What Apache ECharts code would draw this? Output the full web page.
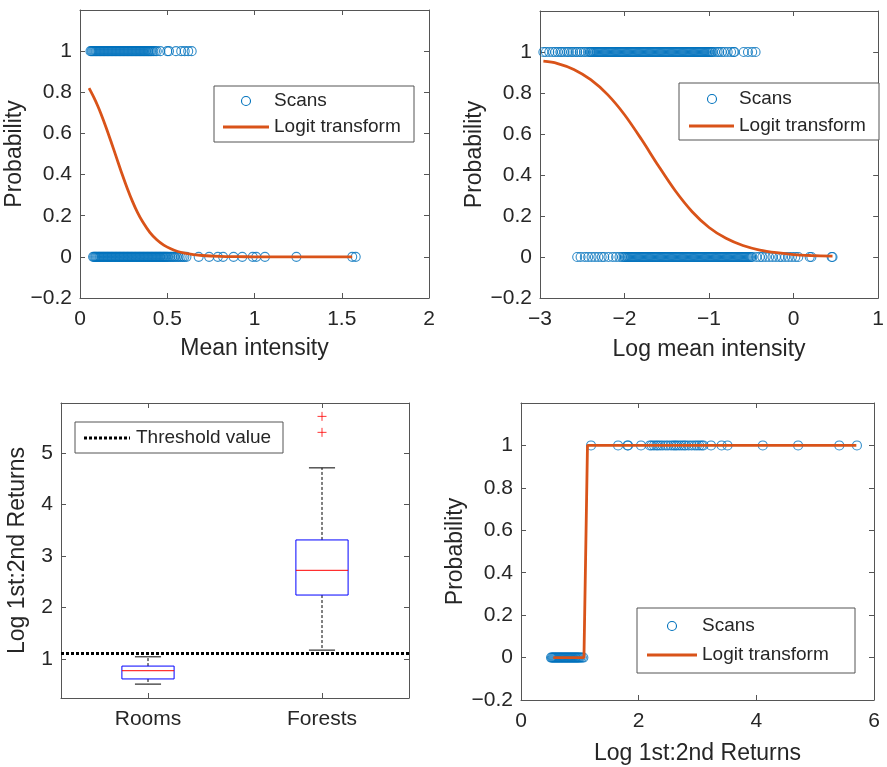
<!DOCTYPE html>
<html>
<head>
<meta charset="utf-8">
<script src="https://cdn.jsdelivr.net/npm/echarts@6/dist/echarts.min.js"></script>
<style>
html, body { margin: 0; padding: 0; background: #fff; }
#chart { width: 887px; height: 767px; }
</style>
</head>
<body>
<div id="chart"></div>
<script>
// ---------- panel 1: mean intensity ----------
var scans1Pos = [0.060,0.066,0.071,0.077,0.083,0.089,0.094,0.100,0.106,0.112,0.117,0.123,0.129,0.135,0.140,0.146,0.152,0.158,
  0.163,0.169,0.175,0.181,0.186,0.192,0.198,0.204,0.209,0.215,0.221,0.227,0.232,0.238,0.244,0.250,0.255,0.261,0.267,0.273,
  0.278,0.284,0.290,0.296,0.301,0.307,0.313,0.319,0.324,0.330,0.336,0.342,0.347,0.353,0.359,0.365,0.370,0.376,0.382,0.388,
  0.393,0.399,0.405,0.412,0.420,0.43,0.44,0.46,0.50,0.51,0.55,0.58,0.60,0.62,0.64];
var scans1Neg = [0.075,0.081,0.087,0.092,0.098,0.104,0.110,0.115,0.121,0.127,0.133,0.138,0.144,0.150,0.156,0.161,0.167,0.173,
  0.179,0.184,0.190,0.196,0.202,0.207,0.213,0.219,0.225,0.230,0.236,0.242,0.248,0.253,0.259,0.265,0.271,0.276,0.282,0.288,
  0.294,0.299,0.305,0.311,0.317,0.322,0.328,0.334,0.340,0.345,0.351,0.357,0.363,0.368,0.374,0.380,0.386,0.391,0.397,0.403,
  0.409,0.414,0.420,0.426,0.432,0.437,0.443,0.449,0.455,0.460,0.466,0.472,0.478,0.483,0.489,0.495,0.501,0.509,0.518,0.527,
  0.536,0.545,0.556,0.566,0.577,0.588,0.598,0.610,0.68,0.74,0.79,0.82,0.88,0.93,0.99,1.01,1.06,1.24,1.56,1.58];
var logit1X = [0.052,0.08,0.10,0.12,0.15,0.18,0.21,0.24,0.27,0.30,0.33,0.36,0.40,0.44,0.48,0.52,0.56,0.60,0.65,0.70,0.80,0.90,1.0,1.2,1.4,1.56];
var logit1Y = [0.820,0.774,0.737,0.696,0.628,0.555,0.480,0.405,0.335,0.271,0.215,0.169,0.119,0.083,0.057,0.039,0.026,0.018,0.011,0.0065,0.0024,0.0009,0.0003,0,0,0];

// ---------- panel 2: log mean intensity ----------
var scans2Pos = [-2.96,-2.93,-2.89,-2.85,-2.82,-2.79,-2.76,-2.74,-2.71,-2.68,-2.66,-2.63,-2.61,-2.58,-2.56,-2.53,-2.51,-2.48,
  -2.46,-2.43,-2.41,-2.400,-2.387,-2.374,-2.361,-2.348,-2.335,-2.322,-2.309,-2.296,-2.283,-2.270,-2.257,-2.244,-2.231,-2.218,
  -2.205,-2.192,-2.179,-2.166,-2.153,-2.140,-2.127,-2.114,-2.101,-2.088,-2.075,-2.062,-2.049,-2.036,-2.023,-2.010,-1.997,
  -1.984,-1.971,-1.958,-1.945,-1.932,-1.919,-1.906,-1.893,-1.880,-1.867,-1.854,-1.841,-1.828,-1.815,-1.802,-1.789,-1.776,
  -1.763,-1.750,-1.737,-1.724,-1.711,-1.698,-1.685,-1.672,-1.659,-1.646,-1.633,-1.620,-1.607,-1.594,-1.581,-1.568,-1.555,
  -1.542,-1.529,-1.516,-1.503,-1.490,-1.477,-1.464,-1.451,-1.438,-1.425,-1.412,-1.399,-1.386,-1.373,-1.360,-1.347,-1.334,
  -1.321,-1.308,-1.295,-1.282,-1.269,-1.256,-1.243,-1.230,-1.217,-1.204,-1.191,-1.178,-1.165,-1.152,-1.139,-1.126,-1.113,
  -1.100,-1.087,-1.074,-1.061,-1.048,-1.035,-1.022,-1.009,-0.996,-0.983,-0.970,-0.957,-0.93,-0.90,-0.88,-0.85,-0.82,-0.78,
  -0.74,-0.71,-0.70,-0.59,-0.54,-0.49,-0.45];
var scans2Neg = [-2.56,-2.52,-2.47,-2.43,-2.39,-2.35,-2.31,-2.27,-2.24,-2.19,-2.14,-2.10,-2.06,-2.03,-2.010,-1.997,-1.984,
  -1.971,-1.958,-1.945,-1.932,-1.919,-1.906,-1.893,-1.880,-1.867,-1.854,-1.841,-1.828,-1.815,-1.802,-1.789,-1.776,-1.763,
  -1.750,-1.737,-1.724,-1.711,-1.698,-1.685,-1.672,-1.659,-1.646,-1.633,-1.620,-1.607,-1.594,-1.581,-1.568,-1.555,-1.542,
  -1.529,-1.516,-1.503,-1.490,-1.477,-1.464,-1.451,-1.438,-1.425,-1.412,-1.399,-1.386,-1.373,-1.360,-1.347,-1.334,-1.321,
  -1.308,-1.295,-1.282,-1.269,-1.256,-1.243,-1.230,-1.217,-1.204,-1.191,-1.178,-1.165,-1.152,-1.139,-1.126,-1.113,-1.100,
  -1.087,-1.074,-1.061,-1.048,-1.035,-1.022,-1.009,-0.996,-0.983,-0.970,-0.957,-0.944,-0.931,-0.918,-0.905,-0.892,-0.879,
  -0.866,-0.853,-0.840,-0.827,-0.814,-0.801,-0.788,-0.775,-0.762,-0.749,-0.736,-0.723,-0.710,-0.697,-0.684,-0.671,-0.658,
  -0.645,-0.632,-0.619,-0.606,-0.593,-0.580,-0.567,-0.554,-0.541,-0.528,-0.515,-0.502,-0.489,-0.44,-0.40,-0.37,-0.33,-0.29,
  -0.25,-0.21,-0.17,-0.14,-0.10,-0.06,-0.02,0.02,0.055,0.19,0.21,0.45,0.46];
var logit2X = [-2.96,-2.8,-2.6,-2.4,-2.2,-2.0,-1.8,-1.6,-1.4,-1.2,-1.0,-0.8,-0.6,-0.4,-0.2,0,0.2,0.46];
var logit2Y = [0.955,0.945,0.915,0.865,0.792,0.694,0.574,0.445,0.323,0.221,0.144,0.091,0.056,0.034,0.021,0.012,0.0074,0.0038];

// ---------- panel 3: boxplot ----------
var boxCategories = ['Rooms', 'Forests'];
var boxLowerWhisker = [0.51, 1.17];
var boxQ1 = [0.61, 2.24];
var boxMedian = [0.77, 2.72];
var boxQ3 = [0.86, 3.31];
var boxUpperWhisker = [1.04, 4.71];
var outlierCategory = ['Forests', 'Forests'];
var outlierValues = [5.71, 5.40];
var thresholdValue = 1.10;
var boxTicks = [1, 2, 3, 4, 5];

// ---------- panel 4: log 1st:2nd returns ----------
var scans4Neg = [0.51,0.525,0.54,0.555,0.57,0.585,0.60,0.615,0.63,0.645,0.66,0.675,0.69,0.705,0.72,0.735,0.75,0.765,0.78,
  0.795,0.81,0.825,0.84,0.855,0.87,0.885,0.90,0.915,0.93,0.945,0.96,0.975,0.99,1.01,1.035,1.06];
var scans4Pos = [1.19,1.65,1.81,1.82,2.04,2.19,2.22,2.26,2.30,2.33,2.37,2.41,2.46,2.50,2.55,2.59,2.62,2.65,2.69,2.73,2.77,2.80,
  2.85,2.90,2.95,2.99,3.03,3.07,3.10,3.23,3.41,3.51,4.11,4.71,5.41,5.71];
var logit4X = [0.55, 1.07, 1.13, 5.70];
var logit4Y = [0, 0, 1, 1];

var FONT = '"Liberation Sans", Arial, sans-serif';
var AXIS_COLOR = '#555';
var TEXT_COLOR = '#262626';
var BLUE = '#0072BD';
var ORANGE = '#D95319';

function fmt(v) { return String(+(+v).toFixed(1)).replace('-', '\u2212'); }

function axis(gridIndex, position, cfg) {
  var main = position === 'bottom' || position === 'left';
  var isCat = cfg.type === 'category';
  var a = {
    gridIndex: gridIndex,
    position: position,
    type: cfg.type || 'value',
    axisLine: { show: true, onZero: false, lineStyle: { color: AXIS_COLOR, width: 1 } },
    axisTick: { show: true, inside: true, length: 5, alignWithLabel: true, lineStyle: { color: AXIS_COLOR } },
    axisLabel: { show: main, margin: cfg.margin, fontSize: 21, color: TEXT_COLOR, fontFamily: FONT,
      showMaxLabel: cfg.hideMax ? false : null },
    splitLine: { show: false }
  };
  if (isCat) { a.data = cfg.data; a.boundaryGap = true; }
  else { a.min = cfg.min; a.max = cfg.max; a.axisLabel.formatter = fmt; }
  if (cfg.interval != null) a.interval = cfg.interval;
  if (cfg.ticks) { a.axisTick.customValues = cfg.ticks; a.axisLabel.customValues = cfg.ticks; }
  if (main && cfg.name) {
    a.name = cfg.name;
    a.nameLocation = 'middle';
    a.nameGap = cfg.nameGap;
    a.nameTextStyle = { fontSize: 23, color: TEXT_COLOR, fontFamily: FONT };
  }
  return a;
}

function pairs(xs, y) { return xs.map(function (x) { return [x, y]; }); }
function zip(xs, ys) { return xs.map(function (x, i) { return [x, ys[i]]; }); }

function scansSeries(idx, pos, neg) {
  return {
    type: 'scatter', xAxisIndex: idx, yAxisIndex: idx,
    symbol: 'circle', symbolSize: 9,
    itemStyle: { color: 'rgba(0,0,0,0)', borderColor: BLUE, borderWidth: 1.1 },
    data: pairs(pos, 1).concat(pairs(neg, 0)), z: 2
  };
}
function logitSeries(idx, xs, ys, smooth) {
  return {
    type: 'line', xAxisIndex: idx, yAxisIndex: idx, showSymbol: false, symbol: 'none',
    smooth: smooth || false,
    lineStyle: { color: ORANGE, width: 2.8 }, data: zip(xs, ys), z: 3
  };
}

function legend(box, circle, line, textX) {
  var ts = { fill: TEXT_COLOR, fontSize: 19, fontFamily: FONT, verticalAlign: 'middle' };
  return [
    { type: 'rect', shape: box, style: { fill: '#fff', stroke: AXIS_COLOR, lineWidth: 1 }, z: 10 },
    { type: 'circle', shape: { cx: circle[0], cy: circle[1], r: 4.5 }, style: { fill: 'none', stroke: BLUE, lineWidth: 1.1 }, z: 11 },
    { type: 'line', shape: { x1: line[0], y1: line[2], x2: line[1], y2: line[2] }, style: { stroke: ORANGE, lineWidth: 2.8 }, z: 11 },
    { type: 'text', x: textX, y: circle[1], style: Object.assign({ text: 'Scans' }, ts), z: 11 },
    { type: 'text', x: textX, y: line[2], style: Object.assign({ text: 'Logit transform' }, ts), z: 11 }
  ];
}

var probAxis = { min: -0.2, max: 1.2, interval: 0.2, hideMax: true, margin: 8 };

var option = {
  animation: false,
  backgroundColor: '#fff',
  textStyle: { fontFamily: FONT },
  grid: [
    { left: 80, top: 10, width: 349, height: 288 },
    { left: 540, top: 11, width: 349, height: 287 },
    { left: 61, top: 403, width: 348, height: 295 },
    { left: 521, top: 403, width: 353, height: 297 }
  ],
  xAxis: [
    axis(0, 'bottom', { min: 0, max: 2, interval: 0.5, margin: 11, name: 'Mean intensity', nameGap: 39 }),
    axis(1, 'bottom', { min: -3, max: 1, interval: 1, margin: 11, name: 'Log mean intensity', nameGap: 40 }),
    axis(2, 'bottom', { type: 'category', data: boxCategories, margin: 11 }),
    axis(3, 'bottom', { min: 0, max: 6, interval: 2, margin: 11, name: 'Log 1st:2nd Returns', nameGap: 42 }),
    axis(0, 'top', { min: 0, max: 2, interval: 0.5 }),
    axis(1, 'top', { min: -3, max: 1, interval: 1 }),
    axis(2, 'top', { type: 'category', data: boxCategories }),
    axis(3, 'top', { min: 0, max: 6, interval: 2 })
  ],
  yAxis: [
    axis(0, 'left', Object.assign({ name: 'Probability', nameGap: 51 }, probAxis)),
    axis(1, 'left', Object.assign({ name: 'Probability', nameGap: 52 }, probAxis)),
    axis(2, 'left', { min: 0.24, max: 5.97, ticks: boxTicks, margin: 8, name: 'Log 1st:2nd Returns', nameGap: 32 }),
    axis(3, 'left', Object.assign({ name: 'Probability', nameGap: 54 }, probAxis)),
    axis(0, 'right', probAxis),
    axis(1, 'right', probAxis),
    axis(2, 'right', { min: 0.24, max: 5.97, ticks: boxTicks }),
    axis(3, 'right', probAxis)
  ],
  series: [
    scansSeries(0, scans1Pos, scans1Neg),
    logitSeries(0, logit1X, logit1Y, 0.3),
    scansSeries(1, scans2Pos, scans2Neg),
    logitSeries(1, logit2X, logit2Y, 0.3),
    scansSeries(3, scans4Pos, scans4Neg),
    logitSeries(3, logit4X, logit4Y),
    {
      type: 'custom', xAxisIndex: 2, yAxisIndex: 2,
      encode: { x: 0, y: [1, 2, 3, 4, 5] },
      data: boxCategories.map(function (c, i) {
        return [i, boxLowerWhisker[i], boxQ1[i], boxMedian[i], boxQ3[i], boxUpperWhisker[i]];
      }),
      renderItem: function (params, api) {
        var c = api.value(0);
        var band = api.size([1, 0])[0];
        var bh = band * 0.15, ch = band * 0.075;
        var yMin = api.coord([c, api.value(1)])[1];
        var yQ1 = api.coord([c, api.value(2)])[1];
        var pMed = api.coord([c, api.value(3)]);
        var yQ3 = api.coord([c, api.value(4)])[1];
        var yMax = api.coord([c, api.value(5)])[1];
        var x = pMed[0];
        var dash = { stroke: '#000', lineWidth: 1, lineDash: [3, 2] };
        var solid = { stroke: '#000', lineWidth: 1 };
        return { type: 'group', children: [
          { type: 'line', shape: { x1: x, y1: yQ3, x2: x, y2: yMax }, style: dash },
          { type: 'line', shape: { x1: x, y1: yQ1, x2: x, y2: yMin }, style: dash },
          { type: 'line', shape: { x1: x - ch, y1: yMax, x2: x + ch, y2: yMax }, style: solid },
          { type: 'line', shape: { x1: x - ch, y1: yMin, x2: x + ch, y2: yMin }, style: solid },
          { type: 'rect', shape: { x: x - bh, y: yQ3, width: 2 * bh, height: yQ1 - yQ3 }, style: { fill: 'none', stroke: '#0000FF', lineWidth: 1 } },
          { type: 'line', shape: { x1: x - bh, y1: pMed[1], x2: x + bh, y2: pMed[1] }, style: { stroke: '#FF0000', lineWidth: 1 } }
        ] };
      },
      markLine: {
        silent: true, symbol: ['none', 'none'], label: { show: false },
        lineStyle: { color: '#000', width: 3, type: [3, 2] },
        data: [{ yAxis: thresholdValue }]
      }
    },
    {
      type: 'scatter', xAxisIndex: 2, yAxisIndex: 2,
      symbol: 'path://M0,5L10,5M5,0L5,10', symbolSize: 9,
      itemStyle: { color: 'none', borderColor: '#FF0000', borderWidth: 1 },
      data: zip(outlierCategory, outlierValues)
    }
  ],
  graphic: legend({ x: 214, y: 86, width: 200, height: 56 }, [246, 101], [223, 269, 127], 274)
    .concat(legend({ x: 679, y: 83, width: 200, height: 57 }, [712, 99], [689, 734, 126], 739))
    .concat(legend({ x: 637, y: 608, width: 218, height: 65 }, [672, 626], [647, 697, 655], 702))
    .concat([
      { type: 'rect', shape: { x: 75, y: 422, width: 208, height: 31 }, style: { fill: '#fff', stroke: AXIS_COLOR, lineWidth: 1 }, z: 10 },
      { type: 'line', shape: { x1: 84, y1: 438, x2: 130, y2: 438 }, style: { stroke: '#000', lineWidth: 3, lineDash: [3, 2] }, z: 11 },
      { type: 'text', x: 136, y: 438, style: { text: 'Threshold value', fill: TEXT_COLOR, fontSize: 19, fontFamily: FONT, verticalAlign: 'middle' }, z: 11 }
    ])
};

var chart = echarts.init(document.getElementById('chart'));
chart.setOption(option);
</script>
</body>
</html>
